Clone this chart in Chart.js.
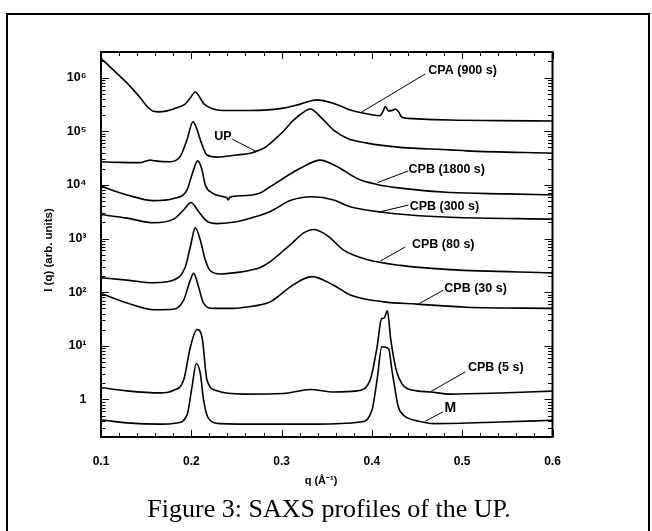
<!DOCTYPE html>
<html>
<head>
<meta charset="utf-8">
<script src="https://cdn.jsdelivr.net/npm/chart.js@4.4.0/dist/chart.umd.min.js"></script>
<style>
html, body { margin: 0; padding: 0; background: #fff; }
#wrap { position: relative; width: 652px; height: 531px; overflow: hidden; }
#frame { position: absolute; left: 6px; top: 13px; width: 640px; height: 560px; border: 2px solid #000; }
#chart { position: absolute; left: 0; top: 0; }
#caption { position: absolute; left: 0; width: 658px; top: 496px; text-align: center;
  font: 26px "Liberation Serif", "Times New Roman", serif; line-height: 26px; color: #000; }
</style>
</head>
<body>
<div id="wrap">
  <div id="frame"></div>
  <canvas id="chart" width="652" height="531"></canvas>
  <div id="caption">Figure 3: SAXS profiles of the UP.</div>
</div>
<script>
// q in 1/Angstrom, I(q) in arbitrary units (curves are offset on the log axis)
const qCPA900 = [0.100, 0.115, 0.129, 0.1435, 0.152, 0.158, 0.164, 0.173, 0.184, 0.193, 0.199, 0.2044, 0.209, 0.2136, 0.2247, 0.2395, 0.265, 0.285, 0.302, 0.3207, 0.339, 0.3576, 0.376, 0.387, 0.409, 0.4125, 0.4148, 0.4185, 0.4225, 0.426, 0.4295, 0.4333, 0.44, 0.45, 0.487, 0.54, 0.60];
const iCPA900 = [2.29e6, 1.32e6, 7.9e5, 4.2e5, 2.8e5, 2.35e5, 2.3e5, 2.4e5, 2.75e5, 3.2e5, 4.2e5, 5.4e5, 4.4e5, 3.3e5, 2.6e5, 2.43e5, 2.43e5, 2.5e5, 2.7e5, 3.2e5, 3.84e5, 3.3e5, 2.5e5, 2.24e5, 1.95e5, 2.4e5, 2.9e5, 2.4e5, 2.45e5, 2.6e5, 2.3e5, 1.82e5, 1.74e5, 1.7e5, 1.62e5, 1.58e5, 1.55e5];

const qUP = [0.100, 0.120, 0.1435, 0.150, 0.1546, 0.160, 0.1767, 0.1878, 0.1952, 0.2019, 0.206, 0.210, 0.2174, 0.2285, 0.250, 0.2654, 0.2764, 0.2838, 0.293, 0.302, 0.3115, 0.3207, 0.3318, 0.343, 0.3576, 0.3725, 0.3946, 0.4315, 0.4868, 0.505, 0.600];
const iUP = [2.7e4, 2.63e4, 2.6e4, 2.8e4, 2.9e4, 2.8e4, 2.7e4, 3.4e4, 6.9e4, 1.5e5, 1.12e5, 6.9e4, 3.6e4, 3.3e4, 3.6e4, 3.9e4, 4.5e4, 5.3e4, 7.2e4, 1.0e5, 1.5e5, 2.05e5, 2.6e5, 1.86e5, 1.05e5, 7.4e4, 6.0e4, 5.0e4, 4.5e4, 4.3e4, 3.9e4];

const qCPB1800 = [0.100, 0.1288, 0.1583, 0.1804, 0.1952, 0.201, 0.207, 0.2115, 0.2155, 0.223, 0.2358, 0.2395, 0.241, 0.2425, 0.2506, 0.2764, 0.2875, 0.3207, 0.343, 0.3613, 0.3835, 0.4057, 0.4315, 0.4868, 0.55, 0.60];
const iCPB1800 = [9.5e3, 6.5e3, 5.1e3, 5.6e3, 8.0e3, 1.6e4, 2.8e4, 2.0e4, 1.0e4, 7.1e3, 6.0e3, 5.75e3, 5.25e3, 5.9e3, 6.2e3, 7.1e3, 9.3e3, 2.04e4, 2.9e4, 2.2e4, 1.32e4, 1.02e4, 8.7e3, 7.2e3, 6.8e3, 6.5e3];

const qCPB300 = [0.100, 0.1288, 0.1583, 0.1804, 0.1915, 0.1996, 0.208, 0.2174, 0.2285, 0.250, 0.2654, 0.2875, 0.3096, 0.3336, 0.3576, 0.376, 0.4057, 0.4425, 0.4868, 0.600];
const iCPB300 = [2.8e3, 2.4e3, 1.97e3, 2.3e3, 3.4e3, 4.7e3, 3.2e3, 2.1e3, 1.9e3, 2.05e3, 2.4e3, 3.2e3, 5.1e3, 6.0e3, 5.25e3, 3.9e3, 3.2e3, 2.75e3, 2.5e3, 2.3e3];

const qCPB80 = [0.100, 0.1288, 0.1583, 0.1804, 0.1933, 0.199, 0.2044, 0.210, 0.2155, 0.221, 0.232, 0.254, 0.2654, 0.2764, 0.2875, 0.298, 0.3096, 0.324, 0.3354, 0.350, 0.3687, 0.3946, 0.4315, 0.4868, 0.600];
const iCPB80 = [186, 168, 150, 168, 295, 710, 1585, 933, 398, 251, 219, 237, 257, 290, 372, 520, 759, 1259, 1479, 1161, 610, 407, 316, 263, 229];

const qCPB30 = [0.100, 0.1288, 0.1583, 0.1804, 0.1915, 0.199, 0.2026, 0.208, 0.2136, 0.2247, 0.2469, 0.2654, 0.2764, 0.2875, 0.298, 0.3096, 0.3336, 0.3576, 0.376, 0.413, 0.450, 0.505, 0.600];
const iCPB30 = [95, 63, 47, 48, 71, 170, 224, 126, 62, 50, 50, 54, 58, 66, 88, 126, 195, 135, 89, 66, 60, 52.5, 50];

const qCPB5 = [0.100, 0.1288, 0.1657, 0.1804, 0.1915, 0.199, 0.2063, 0.2118, 0.2174, 0.2285, 0.258, 0.302, 0.3318, 0.3576, 0.3835, 0.398, 0.4057, 0.4107, 0.4135, 0.4171, 0.4208, 0.4245, 0.4277, 0.433, 0.439, 0.450, 0.4647, 0.4868, 0.5422, 0.600];
const iCPB5 = [1.67, 1.45, 1.33, 1.49, 2.3, 9.5, 20.2, 14.8, 2.3, 1.45, 1.26, 1.29, 1.54, 1.38, 1.45, 2.3, 9.5, 32, 33, 45, 13.5, 5.5, 3.2, 2.0, 1.6, 1.45, 1.38, 1.26, 1.32, 1.43];

const qM = [0.100, 0.1288, 0.1657, 0.1842, 0.1952, 0.2008, 0.2055, 0.210, 0.2136, 0.2192, 0.232, 0.2764, 0.339, 0.387, 0.400, 0.4057, 0.411, 0.4185, 0.4222, 0.4255, 0.429, 0.434, 0.440, 0.450, 0.4684, 0.5422, 0.600];
const iM = [0.42, 0.366, 0.347, 0.366, 0.51, 1.72, 4.7, 3.05, 0.97, 0.44, 0.355, 0.347, 0.347, 0.38, 0.63, 2.3, 9.6, 8.9, 3.5, 1.6, 0.75, 0.53, 0.45, 0.40, 0.355, 0.38, 0.41];

// axis ticks
const xTickValues = [0.1, 0.2, 0.3, 0.4, 0.5, 0.6];
const xTickLabels = ['0.1', '0.2', '0.3', '0.4', '0.5', '0.6'];
const yTickValues = [1, 10, 100, 1e3, 1e4, 1e5, 1e6];
const yTickLabels = ['1', '10\u00b9', '10\u00b2', '10\u00b3', '10\u2074', '10\u2075', '10\u2076'];

// curve labels: leader line from a point on the curve to the label
const noteText = ['CPA (900 s)', 'UP', 'CPB (1800 s)', 'CPB (300 s)', 'CPB (80 s)', 'CPB (30 s)', 'CPB (5 s)', 'M'];
const noteFromQ = [0.3872, 0.272, 0.406, 0.4071, 0.4093, 0.4514, 0.4647, 0.4591];
const noteFromI = [2.2e5, 4.2e4, 1.1e4, 3.1e3, 380, 60, 1.39, 0.394];
const noteToQ = [0.4591, 0.2454, 0.4403, 0.4404, 0.437, 0.4791, 0.5035, 0.4787];
const noteToI = [1.17e6, 7.1e4, 1.82e4, 4.2e3, 697, 109, 3.27, 0.587];
const noteTextQ = [0.4625, 0.2446, 0.4406, 0.4418, 0.4444, 0.4802, 0.5064, 0.4805];
const noteTextI = [1.33e6, 7.9e4, 1.95e4, 3.9e3, 757, 118, 3.89, 0.697];

const pts = (q, v) => q.map((x, i) => ({ x: x, y: v[i] }));
const series = [
  ['CPA (900 s)', qCPA900, iCPA900],
  ['UP', qUP, iUP],
  ['CPB (1800 s)', qCPB1800, iCPB1800],
  ['CPB (300 s)', qCPB300, iCPB300],
  ['CPB (80 s)', qCPB80, iCPB80],
  ['CPB (30 s)', qCPB30, iCPB30],
  ['CPB (5 s)', qCPB5, iCPB5],
  ['M', qM, iM]
];

const boldFont = '"Liberation Sans", Arial, sans-serif';

const frameAndNotes = {
  id: 'frameAndNotes',
  afterDraw(chart) {
    const { ctx, chartArea: a, scales: { x, y } } = chart;
    ctx.save();
    ctx.strokeStyle = '#000';
    ctx.fillStyle = '#000';

    // inward ticks on all four sides
    ctx.lineWidth = 1;
    ctx.beginPath();
    for (let v = 0.1; v < 0.6001; v += 0.02) {
      const px = Math.round(x.getPixelForValue(v)) + 0.5;
      const major = Math.abs(v * 10 - Math.round(v * 10)) < 1e-6;
      const len = major ? 7 : 4;
      ctx.moveTo(px, a.bottom); ctx.lineTo(px, a.bottom - len);
      ctx.moveTo(px, a.top); ctx.lineTo(px, a.top + len);
    }
    for (let e = -1; e <= 6; e++) {
      for (let k = 1; k <= 9; k++) {
        const v = k * Math.pow(10, e);
        if (v < y.min || v > y.max) continue;
        const py = Math.round(y.getPixelForValue(v)) + 0.5;
        const len = k === 1 ? 8 : 4.5;
        ctx.moveTo(a.left, py); ctx.lineTo(a.left + len, py);
        ctx.moveTo(a.right, py); ctx.lineTo(a.right - len, py);
      }
    }
    ctx.stroke();

    ctx.lineWidth = 2;
    ctx.strokeRect(a.left, a.top, a.right - a.left, a.bottom - a.top);

    // leader lines and labels
    ctx.lineWidth = 1;
    ctx.textBaseline = 'middle';
    noteText.forEach((t, i) => {
      ctx.beginPath();
      ctx.moveTo(x.getPixelForValue(noteFromQ[i]), y.getPixelForValue(noteFromI[i]));
      ctx.lineTo(x.getPixelForValue(noteToQ[i]), y.getPixelForValue(noteToI[i]));
      ctx.stroke();
      ctx.font = 'bold ' + (t === 'M' ? 14 : 12.5) + 'px ' + boldFont;
      ctx.textAlign = t === 'UP' ? 'right' : 'left';
      ctx.fillText(t, x.getPixelForValue(noteTextQ[i]), y.getPixelForValue(noteTextI[i]));
    });

    // axis titles
    ctx.font = 'bold 11px ' + boldFont;
    ctx.textAlign = 'center';
    ctx.fillText('q (\u00c5\u207b\u00b9)', 321, 481);
    ctx.save();
    ctx.translate(49, 250);
    ctx.rotate(-Math.PI / 2);
    ctx.font = 'bold 11.5px ' + boldFont;
    ctx.fillText('I (q) (arb. units)', 0, 0);
    ctx.restore();

    ctx.restore();
  }
};

new Chart(document.getElementById('chart'), {
  type: 'line',
  data: {
    datasets: series.map(s => ({
      label: s[0],
      data: pts(s[1], s[2]),
      borderColor: '#000',
      borderWidth: 1.6,
      pointRadius: 0,
      fill: false,
      cubicInterpolationMode: 'monotone'
    }))
  },
  options: {
    responsive: false,
    animation: false,
    events: [],
    layout: { padding: { left: 0, top: 52, right: 99.5, bottom: 0 } },
    plugins: { legend: { display: false }, tooltip: { enabled: false } },
    scales: {
      x: {
        type: 'linear',
        min: 0.1,
        max: 0.6,
        grid: { display: false, drawTicks: false },
        border: { display: false },
        afterBuildTicks: s => { s.ticks = xTickValues.map(v => ({ value: v })); },
        afterFit: s => { s.height = 94; },
        ticks: {
          color: '#000',
          padding: 17,
          maxRotation: 0,
          font: { family: boldFont, weight: 'bold', size: 12 },
          callback: (v, i) => xTickLabels[i]
        }
      },
      y: {
        type: 'logarithmic',
        min: 0.2,
        max: 3e6,
        grid: { display: false, drawTicks: false },
        border: { display: false },
        afterBuildTicks: s => { s.ticks = yTickValues.map(v => ({ value: v })); },
        afterFit: s => { s.width = 101; },
        ticks: {
          color: '#000',
          padding: 14.5,
          font: { family: boldFont, weight: 'bold', size: 12.5 },
          callback: (v, i) => yTickLabels[i]
        }
      }
    }
  },
  plugins: [frameAndNotes]
});
</script>
</body>
</html>
